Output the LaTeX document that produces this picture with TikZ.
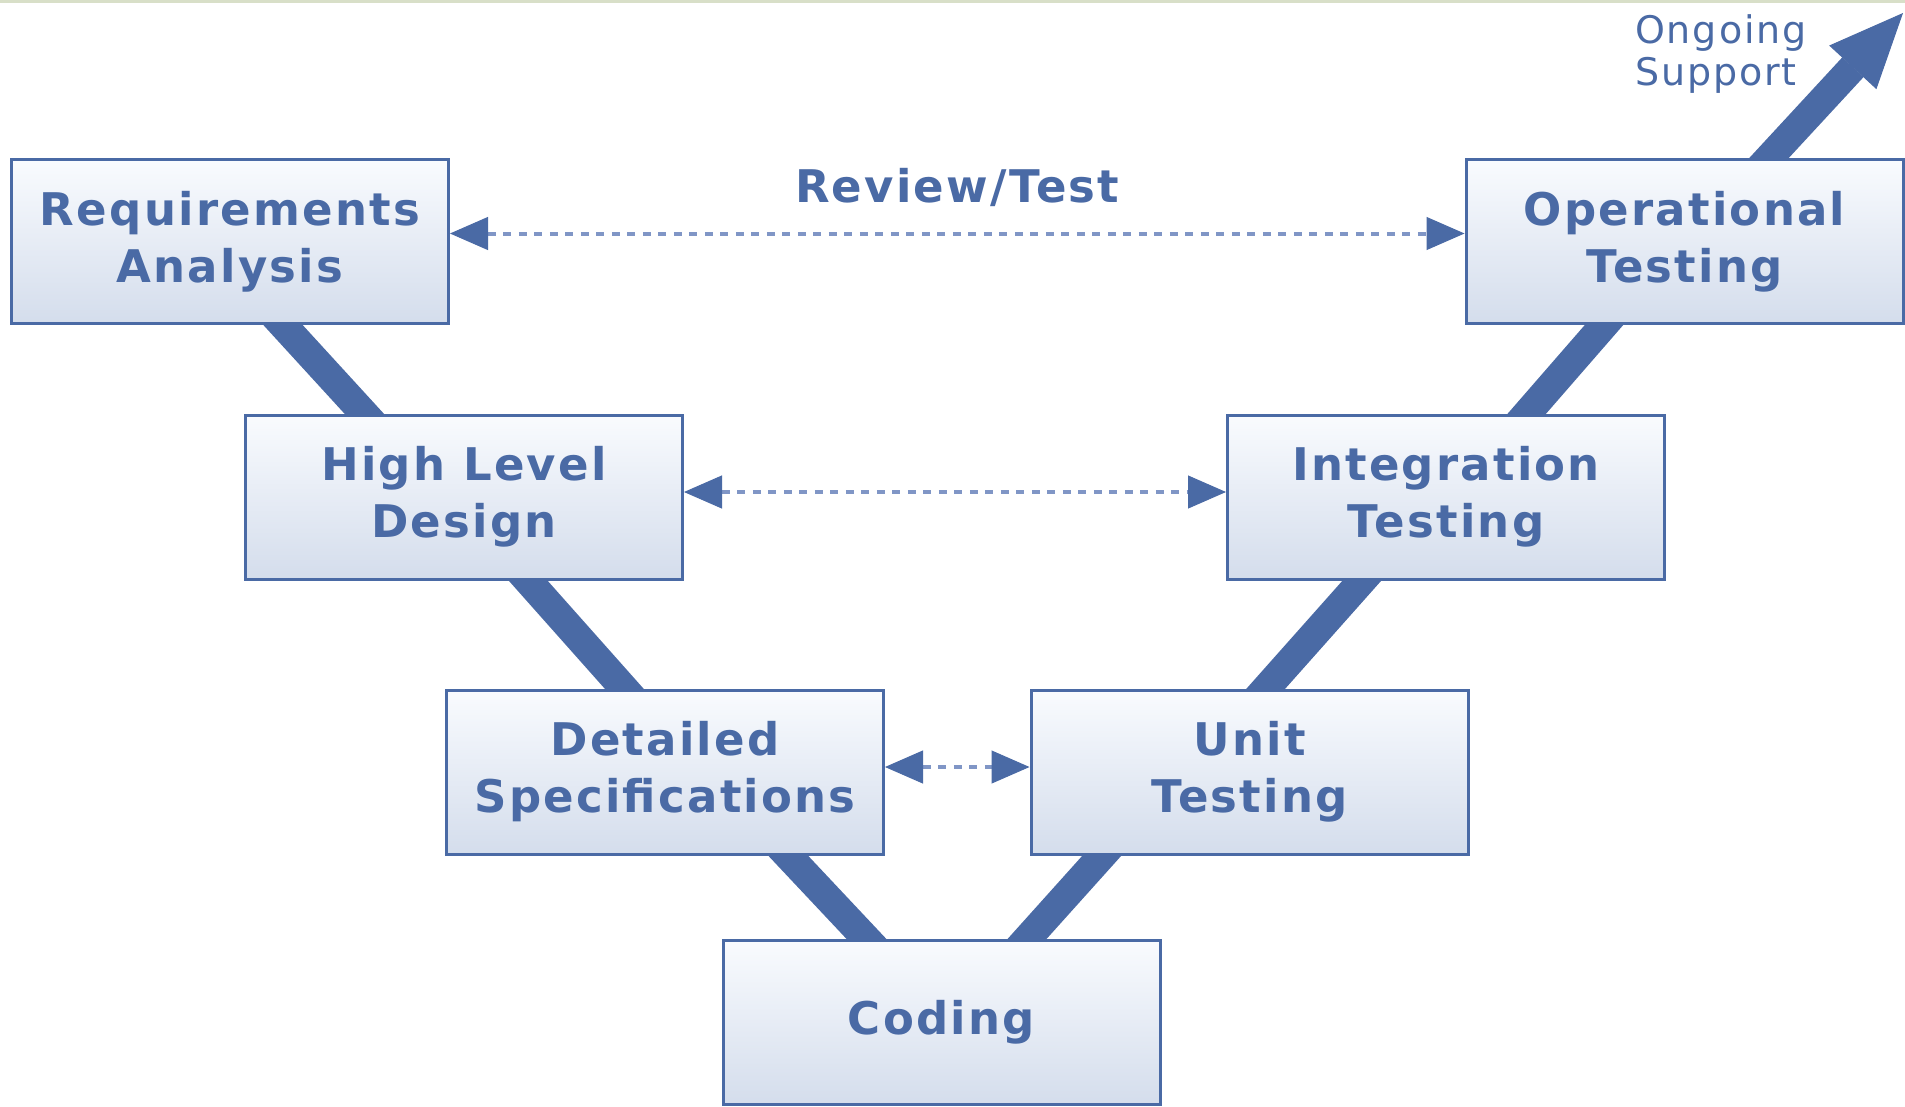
\documentclass[tikz,border=0pt]{standalone}
\usepackage{fontspec}
\setmainfont{DejaVu Sans}
\newfontfamily\vfont[LetterSpace=5]{DejaVu Sans}
\usetikzlibrary{arrows.meta,backgrounds,calc}
\definecolor{vblue}{RGB}{74,106,165}
\definecolor{vdot}{RGB}{128,150,198}
\definecolor{vtop}{RGB}{249,251,254}
\definecolor{vbot}{RGB}{212,221,236}
\definecolor{vstrip}{RGB}{216,223,200}
\begin{document}
\begin{tikzpicture}[x=1pt,y=-1pt,
				stage/.style={draw=vblue, line width=3pt, top color=vtop, bottom color=vbot,
					minimum width=437pt, minimum height=164pt, inner sep=0pt, align=center,
					text=vblue, font=\vfont\bfseries\fontsize{45pt}{57pt}\selectfont},
				tag/.style={text=vblue, inner sep=0pt,
					font=\vfont\bfseries\fontsize{45pt}{57pt}\selectfont},
				note/.style={text=vblue, inner sep=0pt, align=left,
					font=\vfont\fontsize{38pt}{42pt}\selectfont},
				vline/.style={vblue, line width=29pt, shorten <=-20pt, shorten >=-20pt},
				check/.style={vdot, line width=4pt, dash pattern=on 8pt off 7.5pt,
					>={Triangle[length=38pt,width=33pt,line width=1pt,color=vblue]}, <->}
				]
			\useasboundingbox (0,0) rectangle (1905,1106);
			\node [stage] (req) at (230,241.5) {Requirements\\Analysis};
			\node [stage] (hld) at (464,497) {High Level\\Design};
			\node [stage] (ds) at (665,772) {Detailed\\Specifications};
			\node [stage] (cod) at (941.5,1022.5) {Coding};
			\node [stage] (ut) at (1249.5,772) {Unit\\Testing};
			\node [stage] (it) at (1446,497) {Integration\\Testing};
			\node [stage] (op) at (1684.5,241.5) {Operational\\Testing};
			\node [note, anchor=north west] (sup) at (1635,14) {Ongoing\\Support};
			\coordinate (top) at (1903,13);
			\node [tag, anchor=base, yshift=39.5pt] (rt)
				at ($(req.east)!0.5!(op.west)$) {Review/Test};
			\begin{scope}[on background layer]
				\fill [white] (0,0) rectangle (1905,1106);
				\fill [vstrip] (0,0) rectangle (1905,3);
				\draw [vline] ([xshift=53pt]req.south) -- ([xshift=-100pt]hld.north);
				\draw [vline] ([xshift=64pt]hld.south) -- ([xshift=-41pt]ds.north);
				\draw [vline] ([xshift=123pt]ds.south) -- ([xshift=-75pt]cod.north);
				\draw [vline] ([xshift=85.5pt]cod.north) -- ([xshift=-147.5pt]ut.south);
				\draw [vline] ([xshift=16.5pt]ut.north) -- ([xshift=-84pt]it.south);
				\draw [vline] ([xshift=81pt]it.north) -- ([xshift=-80.5pt]op.south);
				\draw [vline, shorten >=0pt, -{Triangle[length=74pt,width=64pt,line width=1pt]}]
					([xshift=84.5pt]op.north) -- (top);
			\end{scope}
			\draw [check] ([yshift=8pt]req.east) -- ([yshift=8pt]op.west);
			\draw [check] ([yshift=5pt]hld.east) -- ([yshift=5pt]it.west);
			\draw [check] ([yshift=5pt]ds.east) -- ([yshift=5pt]ut.west);
			\end{tikzpicture}
\end{document}
